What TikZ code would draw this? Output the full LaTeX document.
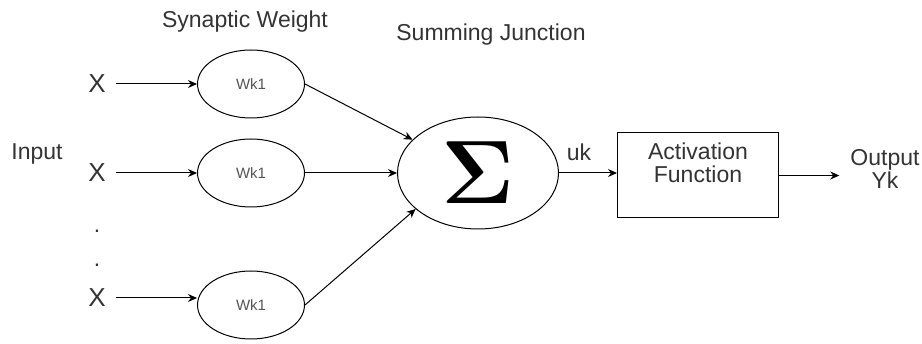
\documentclass[tikz,border=0pt]{standalone}
\usepackage{fix-cm}
\usepackage{bm}
\usepackage{fontspec}
\setmainfont{Liberation Sans}
\usetikzlibrary{arrows.meta,positioning,shapes.geometric}
\definecolor{txtgray}{HTML}{333333}
\definecolor{wgray}{HTML}{555555}
\tikzset{
  lab/.style={font=\fontsize{23}{23}\selectfont, text=txtgray, align=center, inner sep=0pt},
  xin/.style={font=\fontsize{26}{26}\selectfont, text=txtgray, inner sep=0pt, outer xsep=10pt},
  weight/.style={draw, ellipse, line width=1pt, minimum width=107pt, minimum height=68pt, inner sep=0pt,
                 font=\fontsize{15}{15}\selectfont, text=wgray},
  sumnode/.style={draw, ellipse, line width=1pt, minimum width=161pt, minimum height=112pt, inner sep=0pt,
                  font=\fontsize{90}{90}\selectfont},
  actbox/.style={draw, line width=1pt, minimum width=161pt, minimum height=85pt, inner sep=0pt},
  arr/.style={-{Stealth[length=9pt,width=8pt]}, line width=1pt},
}

\begin{document}
\begin{tikzpicture}[x=1pt,y=-1pt]
    \useasboundingbox (0,0) rectangle (922,344);
    % labels
    \node[lab, anchor=base] (syn) at (245,28) {Synaptic Weight};
    \node[lab, anchor=base] (sumlab) at (491,41) {Summing Junction};
    \node[lab, anchor=base] (inp) at (37,160) {Input};
    % inputs
    \node[xin] (x1) at (97,84) {X};
    \node[xin] (x2) at (97,173) {X};
    \node[xin] (x3) at (97,298) {X};
    \node[lab, anchor=base] (dot1) at (97,233) {.};
    \node[lab, anchor=base] (dot2) at (97,267) {.};
    % weights
    \node[weight] (w1) at (251,84) {Wk1};
    \node[weight] (w2) at (251,173) {Wk1};
    \node[weight] (w3) at (251,305) {Wk1};
    % summing junction and activation
    \node[sumnode] (sum) at (478,173) {$\bm{\Sigma}$};
    \node[lab, anchor=base] (uk) at (579,161) {uk};
    \node[actbox] (act) at (698,175.5) {};
    \node[lab] (acttxt) at (698,162.5) {Activation\\Function};
    \node[lab] (out) at (885,169) {Output\\Yk};
    \draw[arr] (x1) -- (w1); \draw[arr] (x2) -- (w2); \draw[arr] (x3) -- (x3 -| w3.west);
    \draw[arr] (w1.east) -- (sum.153); \draw[arr] (w2) -- (sum); \draw[arr] (w3.east) -- (sum.210);
    \draw[arr] (sum.east) -- (sum.east -| act.west);
    \draw[arr, shorten >=11pt] (act.east) -- (act.east -| out.west);
  \end{tikzpicture}
\end{document}
